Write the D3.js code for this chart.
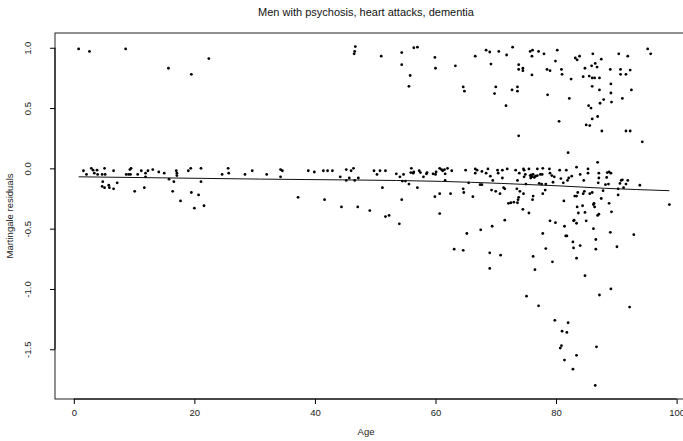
<!DOCTYPE html>
<html>
<head>
<meta charset="utf-8">
<script src="https://cdn.jsdelivr.net/npm/d3@7"></script>
<style>
  body { margin: 0; background: #fff; }
  text { font-family: "Liberation Sans", Arial, sans-serif; }
</style>
</head>
<body>
<svg id="chart"></svg>
<script>
const title = 'Men with psychosis, heart attacks, dementia'
const xLabel = 'Age'
const yLabel = 'Martingale residuals'
const xTicks = [0, 20, 40, 60, 80, 100]
const yTicks = [-1.5, -1.0, -0.5, 0.0, 0.5, 1.0]

// [age, martingale residual]
const obs = [
  [0.8, 0.99], [2.6, 0.97], [8.6, 0.99], [15.7, 0.83], [19.5, 0.78], [22.4, 0.91],
  [1.6, -0.02], [2.1, -0.05], [2.9, 0.0], [3.2, -0.015], [3.4, -0.04], [3.85, -0.015],
  [3.95, -0.05], [4.7, -0.05], [5.1, 0.0], [5.2, -0.05], [6.6, -0.02], [4.8, -0.11],
  [4.7, -0.15], [5.1, -0.16], [5.8, -0.14], [5.9, -0.16], [6.6, -0.17], [7.2, -0.12],
  [8.7, -0.05], [9.1, -0.05], [9.3, -0.01], [9.5, 0.0], [9.4, -0.05], [10.1, -0.19],
  [10.6, -0.05], [11.2, -0.02], [11.7, -0.16], [11.9, -0.04], [11.9, -0.07], [12.3, -0.02],
  [13.1, -0.01], [14.1, -0.03], [15.0, -0.04], [15.8, -0.09], [16.6, -0.11], [16.4, -0.19],
  [17.0, -0.02], [17.1, -0.04], [17.1, -0.06], [17.7, -0.27], [19.0, -0.02], [19.4, 0.0],
  [19.5, -0.20], [20.0, -0.33], [20.7, -0.22], [21.1, 0.0], [21.1, -0.11], [21.6, -0.31],
  [24.6, -0.05], [25.6, 0.0], [25.7, -0.04], [28.4, -0.05], [29.6, -0.02],
  [46.7, 1.01], [46.6, 0.97], [46.5, 0.95], [51.0, 0.93], [54.4, 0.96], [56.4, 1.0],
  [57.0, 1.005], [54.4, 0.86], [55.8, 0.77], [55.6, 0.68], [59.9, 0.92], [60.0, 0.83],
  [63.3, 0.85],
  [32.0, -0.05], [34.3, -0.01], [34.6, -0.02], [34.3, -0.07], [37.2, -0.24], [38.9, -0.02],
  [39.9, -0.03], [41.4, -0.02], [41.6, -0.26], [42.1, -0.02], [42.9, -0.02], [44.2, -0.07],
  [44.4, -0.32], [45.2, -0.01], [45.2, -0.10], [45.7, -0.08], [46.0, -0.02], [46.4, 0.0],
  [46.6, -0.10], [47.2, -0.08], [47.1, -0.32], [49.1, -0.35], [49.8, -0.02], [50.3, -0.05],
  [50.8, -0.02], [51.2, -0.16], [51.7, -0.02], [51.7, -0.40], [52.3, -0.39], [53.5, -0.045],
  [54.0, -0.46], [54.1, -0.07], [54.4, -0.26], [54.5, -0.105], [54.7, -0.05], [55.0, -0.105],
  [55.6, -0.13], [56.0, 0.0], [55.9, -0.035], [56.3, -0.04], [56.4, -0.03], [57.0, -0.16],
  [57.3, -0.02], [57.5, -0.035], [58.0, -0.07], [58.5, -0.045], [58.6, -0.035], [59.6, -0.045],
  [59.9, -0.235], [60.0, -0.05], [60.1, -0.03], [60.7, 0.0], [60.7, -0.21], [60.7, -0.375],
  [61.0, -0.01], [61.2, -0.02], [61.5, -0.01], [61.6, -0.045], [61.6, -0.10], [62.0, 0.0],
  [62.5, -0.21], [62.7, -0.02], [63.1, -0.67],
  [64.6, 0.675], [64.8, 0.64], [66.6, 0.93], [68.4, 0.98], [69.0, 0.965], [69.2, 0.865],
  [69.8, 0.62], [70.0, 0.675], [70.5, 0.97], [71.7, 0.52], [71.8, 0.94], [72.8, 1.005],
  [72.7, 0.65], [73.6, 0.675], [73.6, 0.64], [73.8, 0.86], [73.8, 0.82], [74.5, 0.83],
  [74.5, 0.81], [73.8, 0.27], [75.7, 0.97], [76.1, 0.98], [76.0, 0.93], [76.0, 0.775],
  [77.1, 0.97], [78.0, 0.95], [78.5, 0.82], [79.0, 0.81], [78.6, 0.61], [79.9, 0.89],
  [80.2, 0.98], [80.5, 0.39], [80.9, 0.82], [81.0, 0.78], [82.2, 0.58], [82.5, 0.74],
  [83.2, 0.915], [83.5, 0.90], [83.9, 0.93], [84.5, 0.76], [84.8, 0.83], [85.0, 0.36],
  [85.5, 0.765], [85.6, 0.355], [85.4, 0.52], [85.8, 0.50], [85.9, 0.85], [86.0, 0.75],
  [86.1, 0.95], [86.0, 0.68], [86.0, 0.41], [86.4, 0.75], [86.5, 0.87], [86.8, 0.84],
  [86.9, 0.43], [87.2, 0.75], [87.2, 0.65], [87.5, 0.905], [87.3, 0.54], [87.6, 0.31],
  [87.9, 0.57], [89.0, 0.82], [89.1, 0.70], [89.1, 0.625], [89.2, 0.55], [90.4, 0.95],
  [90.7, 0.82], [90.7, 0.78], [91.0, 0.58], [91.6, 0.78], [91.6, 0.31], [91.9, 0.93],
  [92.3, 0.815], [92.3, 0.31], [92.5, 0.65], [94.3, 0.22], [95.2, 0.99], [95.7, 0.95],
  [82.0, 0.13], [86.9, 0.05],
  [64.6, -0.68], [65.0, -0.015], [65.5, -0.12], [64.6, -0.17], [64.7, -0.20], [66.2, -0.235],
  [65.2, -0.54], [66.6, -0.005], [66.6, -0.04], [66.9, -0.015], [67.4, -0.135], [67.7, -0.135],
  [67.5, -0.51], [67.7, -0.025], [68.4, -0.04], [68.7, -0.005], [69.1, -0.065], [69.3, -0.18],
  [69.4, -0.48], [69.0, -0.70], [69.5, -0.10], [70.0, -0.19], [70.3, -0.015], [70.4, -0.04],
  [70.7, -0.21], [70.8, -0.72], [71.1, -0.015], [71.1, -0.08], [71.3, -0.16], [71.5, -0.43],
  [71.9, -0.005], [72.1, -0.29], [72.5, -0.285], [73.0, -0.28], [73.3, -0.015], [73.5, -0.17],
  [73.6, -0.10], [73.8, -0.24], [73.9, -0.04], [73.7, -0.26], [74.0, -0.19], [73.6, -0.285],
  [74.6, -0.005], [74.5, -0.34], [74.6, -0.21], [74.7, -0.015], [74.9, -0.05], [75.0, -0.13],
  [75.5, -0.37], [75.5, -0.005], [75.7, -0.06], [75.8, -0.08], [76.0, -0.07], [76.2, -0.05],
  [76.2, -0.23], [76.1, -0.26], [76.4, -0.075], [76.9, -0.005], [76.9, -0.06], [77.2, -0.125],
  [77.4, -0.05], [77.6, -0.13], [77.7, -0.05], [77.8, 0.0], [77.8, -0.21], [78.2, -0.18],
  [78.3, -0.13], [78.3, -0.665], [78.9, -0.005], [79.0, -0.04], [79.0, -0.435], [79.3, -0.06],
  [79.7, -0.07], [79.9, -0.45], [79.5, -0.115], [80.6, -0.015], [81.3, -0.27], [81.4, -0.48],
  [81.6, -0.56], [81.8, -0.56], [81.2, -0.12], [81.7, -0.015], [81.9, -0.10], [82.1, -0.08],
  [82.6, -0.065], [82.9, -0.435], [82.8, -0.61], [83.0, -0.43], [82.9, -0.66], [83.4, 0.01],
  [83.5, -0.32], [83.1, -0.23], [83.6, -0.20], [83.4, -0.455], [83.7, -0.37], [84.0, -0.64],
  [83.4, -0.745], [84.0, -0.05], [84.6, -0.10], [84.4, -0.31], [84.5, -0.21], [84.7, -0.19],
  [84.8, -0.365], [85.0, -0.435], [85.3, -0.005], [85.3, -0.04], [86.0, -0.20], [86.2, -0.50],
  [86.2, -0.30], [86.4, -0.32], [86.3, -0.29], [86.6, -0.59], [86.6, -0.67], [86.9, -0.39],
  [87.1, -0.38], [87.1, -0.04], [87.1, -0.08], [87.0, -0.12], [87.8, -0.185], [87.5, -0.25],
  [88.2, -0.135], [88.4, -0.075], [88.5, -0.035], [88.8, -0.03], [89.1, -0.04], [88.7, -0.13],
  [88.8, -0.29], [89.2, -0.36], [89.0, -0.53], [90.1, -0.65], [90.3, -0.17], [90.3, -0.22],
  [90.6, -0.125], [90.8, -0.10], [91.0, -0.095], [91.2, -0.16], [91.6, -0.13], [91.9, -0.10],
  [92.9, -0.55], [93.9, -0.14], [98.8, -0.30], [76.2, -0.73], [77.8, -0.54],
  [74.7, -0.07], [80.8, -0.085], [71.5, -0.17], [83.4, -0.23], [85.6, -0.21], [75.9, -0.055],
  [76.6, -0.065],
  [69.0, -0.83], [76.5, -0.84], [79.4, -0.775], [84.8, -0.89], [89.1, -1.00], [87.2, -1.05],
  [92.2, -1.15], [75.1, -1.06], [77.1, -1.14], [79.8, -1.26], [82.0, -1.28], [81.0, -1.35],
  [81.8, -1.36], [80.9, -1.47], [80.7, -1.49], [86.7, -1.48], [83.4, -1.55], [81.4, -1.59],
  [82.8, -1.665], [86.5, -1.80]
]

// smoother through the residuals
const smoothAge = [0.8, 31, 61, 71, 80, 88, 98.8]
const smoothResid = [-0.07, -0.089, -0.108, -0.125, -0.144, -0.165, -0.185]

const width = 683
const height = 441
const plot = { left: 55, top: 33, right: 693, bottom: 399 }
const labelCenter = 366 // the source figure was cropped on the right

const svg = d3.select('#chart')
  .attr('width', width)
  .attr('height', height)

// R style 4% padding around the data range
const pad = ([a, b]) => [a - (b - a) * 0.04, b + (b - a) * 0.04]

const x = d3.scaleLinear()
  .domain(pad(d3.extent(obs, d => d[0])))
  .range([plot.left, plot.right])

const y = d3.scaleLinear()
  .domain(pad(d3.extent(obs, d => d[1])))
  .range([plot.bottom, plot.top])

// Points
svg.append('g')
  .selectAll('circle')
  .data(obs)
  .enter().append('circle')
  .attr('cx', d => x(d[0]))
  .attr('cy', d => y(d[1]))
  .attr('r', 1.4)
  .attr('fill', '#000')

// Smooth line
const line = d3.line()
  .x((d, i) => x(smoothAge[i]))
  .y(d => y(d))
  .curve(d3.curveMonotoneX)

svg.append('path')
  .datum(smoothResid)
  .attr('d', line)
  .attr('fill', 'none')
  .attr('stroke', '#111')
  .attr('stroke-width', 1)

// Box
svg.append('rect')
  .attr('x', plot.left)
  .attr('y', plot.top)
  .attr('width', plot.right - plot.left)
  .attr('height', plot.bottom - plot.top)
  .attr('fill', 'none')
  .attr('stroke', '#222')
  .attr('stroke-width', 1)

// Axes
const xAxis = svg.append('g')
  .attr('transform', `translate(0,${plot.bottom})`)
  .call(d3.axisBottom(x).tickValues(xTicks).tickSize(5).tickPadding(5))
xAxis.select('.domain').remove()
xAxis.append('line')
  .attr('x1', x(xTicks[0])).attr('x2', x(xTicks[xTicks.length - 1]))
  .attr('stroke', '#000')
xAxis.selectAll('text')
  .attr('font-size', 9.5)
  .attr('fill', '#222')

const yAxis = svg.append('g')
  .attr('transform', `translate(${plot.left},0)`)
  .call(d3.axisLeft(y).tickValues(yTicks).tickSize(5).tickFormat(d => d.toFixed(1)))
yAxis.select('.domain').remove()
yAxis.append('line')
  .attr('y1', y(yTicks[0])).attr('y2', y(yTicks[yTicks.length - 1]))
  .attr('stroke', '#000')
yAxis.selectAll('.tick text')
  .attr('font-size', 9.5)
  .attr('fill', '#222')
  .attr('text-anchor', 'middle')
  .attr('x', 0)
  .attr('y', 0)
  .attr('dy', null)
  .attr('transform', 'translate(-24,0) rotate(-90)')

// Labels
svg.append('text')
  .attr('x', labelCenter)
  .attr('y', 16)
  .attr('text-anchor', 'middle')
  .attr('font-size', 11)
  .attr('fill', '#111')
  .text(title)

svg.append('text')
  .attr('x', labelCenter)
  .attr('y', 435)
  .attr('text-anchor', 'middle')
  .attr('font-size', 9.5)
  .attr('fill', '#222')
  .text(xLabel)

svg.append('text')
  .attr('transform', `translate(13,${(plot.top + plot.bottom) / 2}) rotate(-90)`)
  .attr('text-anchor', 'middle')
  .attr('font-size', 9.5)
  .attr('fill', '#222')
  .text(yLabel)
</script>
</body>
</html>
